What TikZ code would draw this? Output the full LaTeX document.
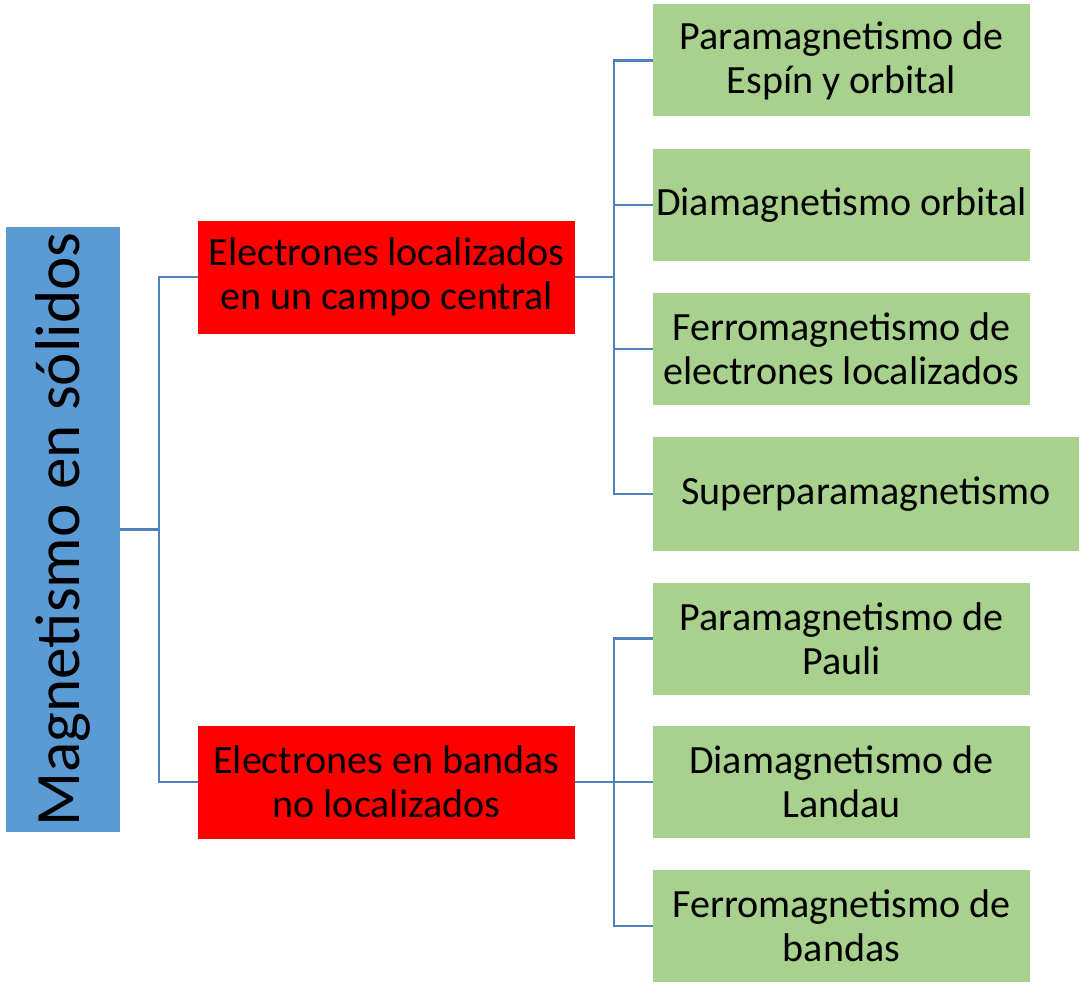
\documentclass[tikz,border=0pt]{standalone}
\usepackage{fontspec}
\setmainfont{Carlito}
\usepackage{tikz}

\definecolor{boxblue}{RGB}{91,155,213}
\definecolor{boxred}{RGB}{255,0,0}
\definecolor{boxgreen}{RGB}{169,209,142}
\definecolor{linkblue}{RGB}{79,129,189}

\begin{document}
\begin{tikzpicture}[x=0.02cm,y=-0.02cm,
    typebox/.style={fill=boxred,minimum width=377*0.02cm,minimum height=113*0.02cm,
        align=center,inner sep=0pt,font=\fontsize{22.8}{25}\selectfont},
    kindbox/.style={fill=boxgreen,minimum width=377*0.02cm,minimum height=112*0.02cm,
        align=center,inner sep=0pt,font=\fontsize{22.8}{25}\selectfont},
    link/.style={draw=linkblue,line width=1.2pt}]
                \useasboundingbox (0,0) rectangle (1086,990);
                \node [fill=boxblue,minimum width=114*0.02cm,minimum height=605*0.02cm,inner sep=0pt] (solid) at (63,529.5) {};
                \node [rotate=90,font=\fontsize{36}{40}\selectfont] at (solid.center) {Magnetismo en sólidos};
                \node [typebox] (local) at (386.5,277) {Electrones localizados\\en un campo central};
                \node [typebox] (band) at (386.5,782) {Electrones en bandas\\no localizados};
                \node [kindbox] (spin) at (841.5,60.5) {Paramagnetismo de\\Espín y orbital};
                \node [kindbox] (diaorb) at (841.5,205) {Diamagnetismo orbital};
                \node [kindbox] (ferroloc) at (841.5,349) {Ferromagnetismo de\\electrones localizados};
                \node [kindbox,minimum width=426*0.02cm,minimum height=114*0.02cm] (super) at (866,494) {Superparamagnetismo};
                \node [kindbox] (pauli) at (841.5,638.5) {Paramagnetismo de\\Pauli};
                \node [kindbox] (landau) at (841.5,782) {Diamagnetismo de\\Landau};
                \node [kindbox] (ferroband) at (841.5,926) {Ferromagnetismo de\\bandas};
                \coordinate (j0) at (159,529.5);
                \coordinate (j1) at (614,277);
                \coordinate (j2) at (614,782);
                \draw [link] (solid.east) -- (j0) |- (local.west);
                \draw [link] (j0) |- (band.west);
                \draw [link] (local.east) -- (j1) |- (spin.west);
                \draw [link] (j1) |- (diaorb.west);
                \draw [link] (j1) |- (ferroloc.west);
                \draw [link] (j1) |- (super.west);
                \draw [link] (band.east) -- (j2) |- (pauli.west);
                \draw [link] (j2) |- (landau.west);
                \draw [link] (j2) |- (ferroband.west);
            \end{tikzpicture}
\end{document}
